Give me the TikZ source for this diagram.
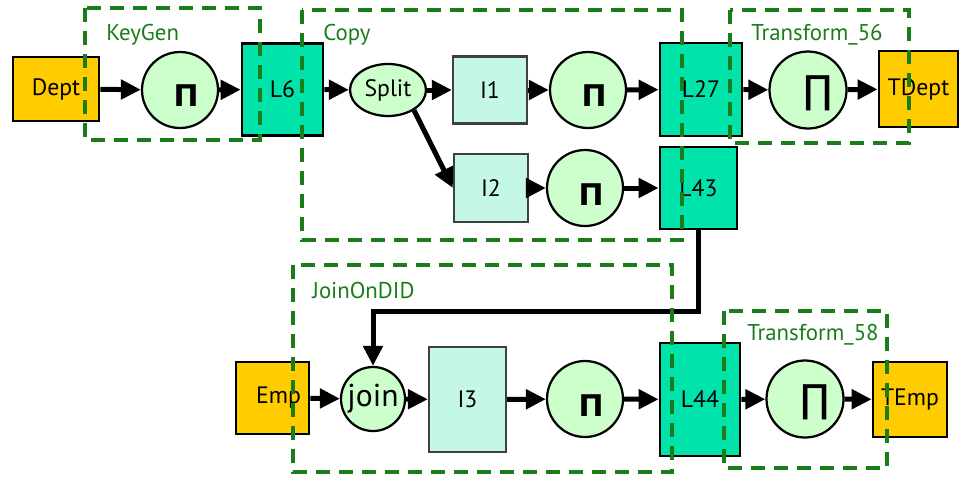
\documentclass[tikz,border=0pt]{standalone}
\usepackage{fontspec}
\setmainfont{PT Sans}
\newfontfamily\symfont{DejaVu Sans}
\usetikzlibrary{arrows.meta,shapes.geometric}

\definecolor{srcfill}{HTML}{FFCC00}
\definecolor{storefill}{HTML}{00E3AA}
\definecolor{tmpfill}{HTML}{C4F7E8}
\definecolor{opfill}{HTML}{CCFFCC}
\definecolor{grpgreen}{HTML}{1A7D1A}

% projection symbols, set a little right of and below the circle centre
\newcommand{\projsym}{\hspace*{0.24cm}\raisebox{-0.34cm}[0pt][0pt]{Π}}
\newcommand{\prodsym}{\hspace*{0.4cm}\raisebox{-0.26cm}[0pt][0pt]{∏}}

\tikzset{
  sz/.style 2 args={minimum width=#1*0.02cm, minimum height=#2*0.02cm},
  basebox/.style={draw=black, line width=0.055cm, inner sep=0pt,
    font=\fontsize{13.5}{15}\selectfont},
  src/.style={basebox, fill=srcfill},
  store/.style={basebox, fill=storefill},
  tmp/.style={basebox, fill=tmpfill, draw=black!75, line width=0.045cm},
  op/.style={circle, draw=black, line width=0.045cm, fill=opfill, inner sep=0pt,
    minimum size=#1*0.02cm},
  proj/.style={op=76, font=\symfont\bfseries\fontsize{17}{19}\selectfont},
  prod/.style={op=77, font=\symfont\fontsize{22}{24}\selectfont},
  splitop/.style={ellipse, draw=black, line width=0.045cm, fill=opfill, inner sep=0pt,
    minimum width=76*0.02cm, minimum height=52*0.02cm,
    font=\fontsize{13.5}{15}\selectfont},
  joinop/.style={op=64, font=\fontsize{18}{20}\selectfont},
  arr/.style={-{Triangle[length=0.4cm,width=0.38cm]}, line width=0.1cm},
  grp/.style={draw=grpgreen, line width=0.075cm, dash pattern=on 0.28cm off 0.18cm},
  grplabel/.style={anchor=west, inner sep=0pt, text=grpgreen,
    font=\fontsize{13}{15}\selectfont},
}

\begin{document}
\begin{tikzpicture}[x=0.02cm, y=-0.02cm]
\useasboundingbox (0,0) rectangle (959,477);

% upper row: key generation and copy
\node[src, sz={86}{64}] (Dept) at (56,89) {Dept};
\node[proj] (pi1) at (180,90) {\projsym};
\node[store, sz={81}{92}] (L6) at (282.5,89.5) {L6\hspace{0.32cm}};
\node[splitop] (split) at (388,90) {Split};
\node[tmp, sz={74}{67}] (I1) at (490,90) {I1\hspace{0.28cm}};
\node[proj] (pi2) at (588,90) {\projsym};
\node[store, sz={82}{93}] (L27) at (701,89.5) {L27};
\node[prod] (pi4) at (808,90) {\prodsym};
\node[src, sz={79}{76}] (TDept) at (918.5,89) {TDept};

% second branch of the copy
\node[tmp, sz={74}{68}] (I2) at (491,188) {I2\hspace{0.28cm}};
\node[proj] (pi3) at (585,188) {\projsym};
\node[store, sz={77}{82}] (L43) at (698.5,188) {L43};

% lower row: join and transform
\node[src, sz={73}{72}] (Emp) at (272.5,398) {\hspace{0.24cm}Emp};
\node[joinop] (join) at (373,399) {join};
\node[tmp, sz={77}{105}] (I3) at (467.5,399.5) {I3\hspace{0.32cm}};
\node[proj] (pi5) at (585,399) {\projsym};
\node[store, sz={80}{113}] (L44) at (700,399.5) {L44};
\node[prod] (pi6) at (805,399) {\prodsym};
\node[src, sz={74}{75}] (TEmp) at (910,399.5) {TEmp};

% data flow
\draw[arr] (Dept) -- (pi1);
\draw[arr] (pi1) -- (L6);
\draw[arr] (L6) -- (split);
\draw[arr] (split) -- (I1);
\draw[arr] (split.-38) -- (I2.west);
\draw[arr] (I1) -- (pi2);
\draw[arr] (pi2) -- (L27);
\draw[arr] (L27) -- (pi4);
\draw[arr] (pi4) -- (TDept);
\draw[arr] (I2) -- (pi3);
\draw[arr] (pi3) -- (L43);
\draw[arr] (L43.south) -- ++(0,81) -| (join.north);
\draw[arr] (Emp) -- (join);
\draw[arr] (join) -- (I3);
\draw[arr] (I3) -- (pi5);
\draw[arr] (pi5) -- (L44);
\draw[arr] (L44) -- (pi6);
\draw[arr] (pi6) -- (TEmp);

% activity groups
\draw[grp] (85,8) rectangle (260,140);
\node[grplabel] (lblKeyGen) at (106,35) {KeyGen};
\draw[grp] (302,10) rectangle (682,240);
\node[grplabel] (lblCopy) at (323,35) {Copy};
\draw[grp] (730,10) rectangle (909,143);
\node[grplabel] (lblT56) at (751,35) {Transform\_56};
\draw[grp] (293,265) rectangle (672,472);
\node[grplabel] (lblJoin) at (312,290) {JoinOnDID};
\draw[grp] (724,311) rectangle (887,468);
\node[grplabel] (lblT58) at (747,335) {Transform\_58};
\end{tikzpicture}
\end{document}
